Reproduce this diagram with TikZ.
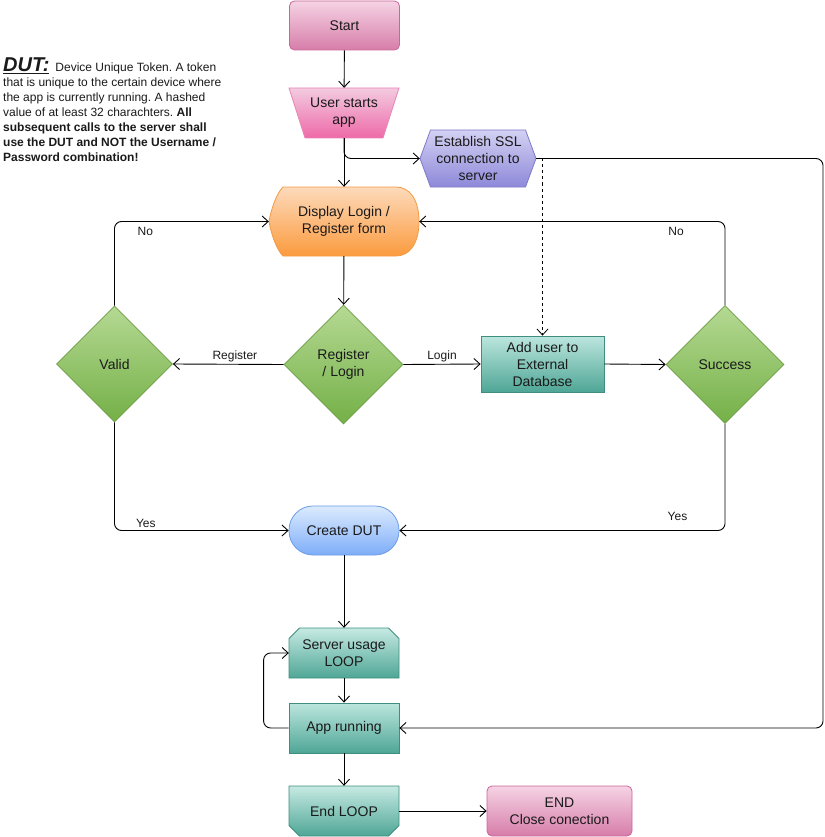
\documentclass[tikz,border=0pt]{standalone}
\usepackage{fontspec}
\setmainfont{Liberation Sans}
\usetikzlibrary{arrows.meta,shapes.geometric}
\pgfdeclarelayer{background}
\pgfsetlayers{background,main}
\frenchspacing
\definecolor{pkT}{HTML}{F5D3E4}\definecolor{pkB}{HTML}{D77DA9}\definecolor{pkD}{HTML}{C8679A}
\definecolor{mgT}{HTML}{F3CBE0}\definecolor{mgB}{HTML}{EE69A8}\definecolor{mgD}{HTML}{E886B5}
\definecolor{lvT}{HTML}{D3D1F3}\definecolor{lvB}{HTML}{8E89D9}\definecolor{lvD}{HTML}{7F79C9}
\definecolor{orT}{HTML}{FDDABB}\definecolor{orB}{HTML}{FB9B3E}\definecolor{orD}{HTML}{F39A45}
\definecolor{gnT}{HTML}{B5D993}\definecolor{gnB}{HTML}{74B047}\definecolor{gnD}{HTML}{6C9D45}
\definecolor{tlT}{HTML}{BCE6DE}\definecolor{tlB}{HTML}{4FA696}\definecolor{tlD}{HTML}{3F8E80}
\definecolor{blT}{HTML}{DCEBFE}\definecolor{blB}{HTML}{7DADF8}\definecolor{blD}{HTML}{6C9CE6}
\definecolor{txt}{HTML}{1A1A1A}
\begin{document}
\begin{tikzpicture}[x=1pt,y=-1pt,
  box/.style={inner sep=0pt, align=center, font=\fontsize{14}{17}\selectfont, text=txt},
  ghost/.style={box, rectangle},
  pinkbox/.style={box, rectangle, rounded corners=5pt, top color=pkT, bottom color=pkB, draw=pkD, line width=0.8pt},
  tealbox/.style={box, rectangle, top color=tlT, bottom color=tlB, draw=tlD, line width=0.8pt},
  decision/.style={box, diamond, aspect=1, top color=gnT, bottom color=gnB, draw=gnD, line width=0.8pt},
  stadium/.style={box, rectangle, rounded corners=24pt, top color=blT, bottom color=blB, draw=blD, line width=0.8pt},
  conn/.style={line width=0.9pt, black, rounded corners=7pt, -{Straight Barb[length=6pt,width=11pt]}},
  lbl/.style={font=\fontsize{12}{14}\selectfont, text=txt, inner sep=2pt},
  note/.style={anchor=base west, inner sep=0pt, font=\fontsize{12}{14}\selectfont, text=txt}
]
\useasboundingbox (0,0) rectangle (824,837);

% note text
\node[note] (t1) at (3,71.5) {{\fontsize{20}{22}\selectfont\bfseries\itshape\underline{DUT:}}\hspace{6pt}Device Unique Token. A token};
\node[note] (t2) at (3,86.5) {that is unique to the certain device where};
\node[note] (t3) at (3,101.5) {the app is currently running. A hashed};
\node[note] (t4) at (3,116.5) {value of at least 32 charachters. \textbf{All}};
\node[note] (t5) at (3,131.5) {\textbf{subsequent calls to the server shall}};
\node[note] (t6) at (3,146.5) {\textbf{use the DUT and NOT the Username /}};
\node[note] (t7) at (3,161.5) {\textbf{Password combination!}};

% nodes
\node[pinkbox, minimum width=110, minimum height=49] (start) at (344.5,25.5) {Start};
\node[ghost, minimum width=110, minimum height=50] (usa) at (344,113) {User starts\\app};
\node[ghost, minimum width=116, minimum height=57] (ssl) at (478,158.5) {Establish SSL\\connection to\\server};
\node[ghost, minimum width=150, minimum height=69] (disp) at (344,221.5) {Display Login /\\Register form};
\node[decision, minimum width=119, minimum height=119] (reglog) at (343.5,364.5) {Register\\/ Login};
\node[decision, minimum width=116, minimum height=116] (valid) at (114.5,364) {Valid};
\node[tealbox, minimum width=123, minimum height=56] (adduser) at (542.5,364) {Add user to\\External\\Database};
\node[decision, minimum width=118, minimum height=118] (success) at (725,364.5) {Success};
\node[stadium, minimum width=110, minimum height=49] (dut) at (344,530.5) {Create DUT};
\node[ghost, minimum width=110, minimum height=50] (sul) at (344,653) {Server usage\\LOOP};
\node[tealbox, minimum width=110, minimum height=50] (app) at (344,728) {App running};
\node[ghost, minimum width=110, minimum height=50] (endl) at (344,811) {End LOOP};
\node[pinkbox, minimum width=145, minimum height=50] (endn) at (559.5,811) {END\\Close conection};

% custom node outlines
\begin{pgfonlayer}{background}
\path[top color=mgT, bottom color=mgB, draw=mgD, line width=0.8pt]
  (289,88) -- (399,88) -- (383,138) -- (305,138) -- cycle;
\path[top color=lvT, bottom color=lvB, draw=lvD, line width=0.8pt]
  (420,158.5) -- (430.5,130) -- (525.5,130) -- (536,158.5) -- (525.5,187) -- (430.5,187) -- cycle;
\path[top color=orT, bottom color=orB, draw=orD, line width=0.8pt]
  (283,187) -- (396,187) .. controls (410,187) and (419,200) .. (419,221.5)
  .. controls (419,243) and (410,256) .. (396,256) -- (283,256)
  .. controls (276,249) and (271,233) .. (269,221.5)
  .. controls (271,210) and (276,194) .. (283,187) -- cycle;
\path[top color=tlT!85!white, bottom color=tlB, draw=tlD, line width=0.8pt]
  (299.5,628) -- (388.5,628) -- (399,638.5) -- (399,678) -- (289,678) -- (289,638.5) -- cycle;
\path[top color=tlT!85!white, bottom color=tlB, draw=tlD, line width=0.8pt]
  (289,786) -- (399,786) -- (399,825.5) -- (388.5,836) -- (299.5,836) -- (289,825.5) -- cycle;
\end{pgfonlayer}

% connectors
\draw[conn] (start) -- (usa);
\draw[conn] (usa) -- (disp);
\draw[conn] (usa.south) |- (ssl.west);
\coordinate (rt) at (823,158.5);
\draw[conn] (ssl.east) -- (rt) |- (app.east);
\coordinate (dsh) at (adduser.north |- ssl.east);
\draw[conn, dash pattern=on 3pt off 3pt, line width=0.8pt] (dsh) -- (adduser.north);
\draw[conn] (disp) -- (reglog);
\draw[conn] (reglog.west) -- node[lbl, pos=0.44, above] {Register} (valid.east);
\draw[conn] (reglog.east) -- node[lbl, midway, above] {Login} (adduser.west);
\draw[conn] (adduser.east) -- (success.west);
\draw[conn] (valid.north) |- node[lbl, pos=0.6, below, yshift=-3pt] {No} (disp.west);
\draw[conn] (valid.south) |- node[lbl, pos=0.59, above] {Yes} (dut.west);
\draw[conn] (success.north) |- node[lbl, pos=0.58, below, yshift=-3pt] {No} (disp.east);
\draw[conn] (success.south) |- node[lbl, pos=0.573, above, yshift=7pt] {Yes} (dut.east);
\draw[conn] (dut) -- (sul);
\draw[conn] (sul) -- (app);
\draw[conn] (app.west) -- ++(-25,0) |- (sul.west);
\draw[conn] (app) -- (endl);
\draw[conn] (endl.east) -- (endn.west);
\end{tikzpicture}
\end{document}
